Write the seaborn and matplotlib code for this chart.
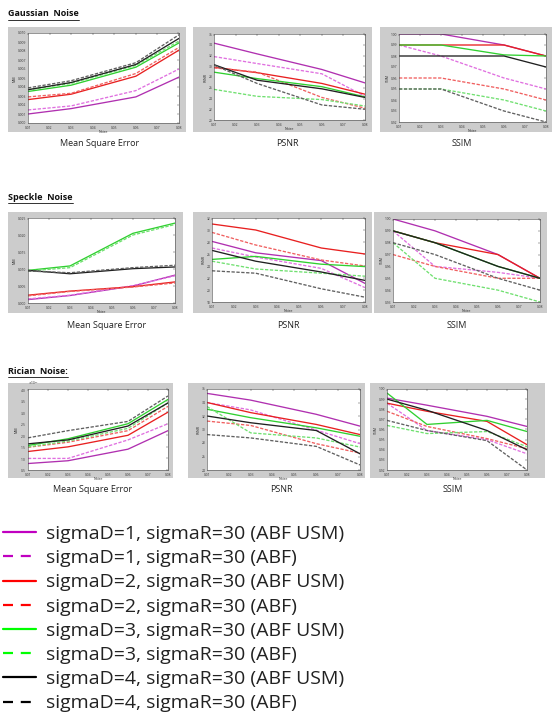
import numpy as np
import pandas as pd
import seaborn as sns
import matplotlib
matplotlib.use('Agg')
import matplotlib.pyplot as plt
from matplotlib.patches import Rectangle
from matplotlib.lines import Line2D
from matplotlib.ticker import ScalarFormatter

W, H = 554, 718

noise = [0.01, 0.03, 0.06, 0.08]
series = ['sigmaD=1, sigmaR=30 (ABF USM)', 'sigmaD=1, sigmaR=30 (ABF)',
          'sigmaD=2, sigmaR=30 (ABF USM)', 'sigmaD=2, sigmaR=30 (ABF)',
          'sigmaD=3, sigmaR=30 (ABF USM)', 'sigmaD=3, sigmaR=30 (ABF)',
          'sigmaD=4, sigmaR=30 (ABF USM)', 'sigmaD=4, sigmaR=30 (ABF)']
methods = ['ABF USM', 'ABF'] * 4

# values, one row per series (same order as above)
gauss_mse = [[0.0010, 0.0016, 0.0029, 0.0051],
             [0.00145, 0.0019, 0.0036, 0.0060],
             [0.0026, 0.0032, 0.0052, 0.0081],
             [0.0029, 0.0033, 0.0055, 0.0084],
             [0.0035, 0.0042, 0.0062, 0.0089],
             [0.0037, 0.0044, 0.0064, 0.0091],
             [0.0037, 0.0045, 0.0065, 0.0094],
             [0.0039, 0.0047, 0.0067, 0.0098]]
gauss_psnr = [[34.3, 32.3, 29.4, 26.9],
              [31.8, 30.5, 28.6, 24.4],
              [29.8, 28.8, 26.8, 24.8],
              [29.7, 28.9, 24.2, 22.2],
              [28.9, 27.7, 26.2, 24.3],
              [25.7, 24.4, 23.8, 22.6],
              [30.3, 27.4, 25.8, 24.2],
              [30.2, 26.8, 22.8, 22.0]]
gauss_ssim = [[1.0, 1.0, 0.99, 0.98],
              [0.99, 0.98, 0.96, 0.95],
              [0.99, 0.99, 0.99, 0.98],
              [0.96, 0.96, 0.95, 0.94],
              [0.99, 0.99, 0.981, 0.98],
              [0.95, 0.95, 0.94, 0.93],
              [0.98, 0.98, 0.98, 0.97],
              [0.95, 0.95, 0.93, 0.92]]

speckle_mse = [[0.0010, 0.0022, 0.0050, 0.0082],
               [0.0012, 0.0023, 0.0051, 0.0080],
               [0.0023, 0.0035, 0.0048, 0.0062],
               [0.0021, 0.0034, 0.0047, 0.0059],
               [0.0096, 0.0109, 0.0205, 0.0235],
               [0.0094, 0.0104, 0.0200, 0.0231],
               [0.0096, 0.0086, 0.0101, 0.0106],
               [0.0094, 0.0089, 0.0104, 0.0111]]
speckle_psnr = [[28.1, 26.2, 24.9, 21.1],
                [27.0, 25.5, 23.6, 20.4],
                [31.0, 30.0, 27.0, 26.0],
                [29.6, 27.5, 25.0, 24.0],
                [25.1, 25.6, 24.3, 23.9],
                [24.8, 23.5, 22.8, 22.3],
                [26.6, 24.8, 23.0, 21.6],
                [23.2, 22.8, 20.2, 18.8]]
speckle_ssim = [[1.0, 0.99, 0.97, 0.95],
                [0.99, 0.96, 0.955, 0.95],
                [0.99, 0.98, 0.97, 0.95],
                [0.97, 0.96, 0.95, 0.95],
                [0.99, 0.98, 0.96, 0.95],
                [0.98, 0.95, 0.94, 0.93],
                [0.99, 0.98, 0.96, 0.95],
                [0.98, 0.97, 0.95, 0.94]]

rician_mse = [[0.00078, 0.0009, 0.0014, 0.0022],
              [0.0010, 0.0010, 0.0018, 0.0025],
              [0.0013, 0.0015, 0.0020, 0.0030],
              [0.00148, 0.0017, 0.0022, 0.00325],
              [0.00156, 0.00185, 0.0025, 0.00355],
              [0.0015, 0.00175, 0.0023, 0.0034],
              [0.00163, 0.0018, 0.0024, 0.0034],
              [0.00189, 0.0022, 0.0026, 0.0037]]
rician_psnr = [[35.35, 34.35, 32.25, 30.5],
               [34.0, 32.9, 29.9, 27.9],
               [34.0, 32.5, 30.75, 29.25],
               [31.25, 30.6, 27.9, 26.5],
               [33.0, 31.75, 30.25, 29.0],
               [33.4, 29.5, 28.75, 27.4],
               [32.0, 31.0, 29.85, 26.4],
               [29.25, 28.75, 27.5, 24.75]]
rician_ssim = [[0.991, 0.984, 0.973, 0.963],
               [0.986, 0.959, 0.950, 0.936],
               [0.986, 0.978, 0.968, 0.945],
               [0.978, 0.963, 0.951, 0.941],
               [0.996, 0.965, 0.969, 0.958],
               [0.964, 0.956, 0.958, 0.943],
               [0.990, 0.979, 0.959, 0.940],
               [0.969, 0.959, 0.949, 0.920]]

plot_colors = ['#b030b0', '#e070e0', '#e82020', '#f06060',
               '#30d030', '#70e070', '#202020', '#606060']
legend_colors = ['#c000c0', '#c000c0', '#ff0000', '#ff0000',
                 '#00ff00', '#00ff00', '#000000', '#000000']


def to_long(values):
    rows = []
    for lab, m, ys in zip(series, methods, values):
        for x, y in zip(noise, ys):
            rows.append({'noise': x, 'value': y, 'series': lab, 'method': m})
    return pd.DataFrame(rows)


sns.set_theme(style='white')
plt.rcParams['font.family'] = ['Open Sans', 'DejaVu Sans']

fig = plt.figure(figsize=(W / 100, H / 100), dpi=100)


def rect(x0, y0, x1, y1):
    return [x0 / W, 1 - y1 / H, (x1 - x0) / W, (y1 - y0) / H]


rows = [
    ('Gaussian  Noise', 14,
     [(gauss_mse, 'MSE', (0, 0.01), 0.001, (8, 27, 186, 132), (28, 33, 179, 123), 'Mean Square Error', 100),
      (gauss_psnr, 'PSNR', (20, 36), 2, (193, 27, 372, 132), (214, 34, 365, 120), 'PSNR', 287),
      (gauss_ssim, 'SSIM', (0.92, 1.0), 0.01, (380, 27, 552, 132), (399, 34, 546, 122), 'SSIM', 462)], 143),
    ('Speckle  Noise', 197,
     [(speckle_mse, 'MSE', (0, 0.025), 0.005, (8, 212, 183, 313), (28, 218, 175, 303), 'Mean Square Error', 107),
      (speckle_psnr, 'PSNR', (18, 32), 2, (193, 212, 372, 313), (212, 218, 365, 302), 'PSNR', 288),
      (speckle_ssim, 'SSIM', (0.93, 1.0), 0.01, (374, 212, 547, 313), (393, 219, 540, 302), 'SSIM', 457)], 325),
    ('Rician  Noise:', 371,
     [(rician_mse, 'MSE', (0.0005, 0.004), 0.0005, (8, 383, 173, 478), (28, 389, 168, 470), 'Mean Square Error', 93),
      (rician_psnr, 'PSNR', (24, 36), 2, (188, 383, 365, 478), (207, 389, 360, 470), 'PSNR', 281),
      (rician_ssim, 'SSIM', (0.92, 1.0), 0.01, (370, 383, 545, 478), (387, 389, 527, 470), 'SSIM', 453)], 490),
]

palette = dict(zip(series, plot_colors))
dashes = {'ABF USM': '', 'ABF': (2.5, 1.2)}

for title, ty, panels, cy in rows:
    t = fig.text(8 / W, 1 - ty / H, title, fontsize=6.5, fontweight='bold',
                 va='center', ha='left', color='#111111')
    fig.canvas.draw()
    bb = t.get_window_extent().transformed(fig.transFigure.inverted())
    fig.add_artist(Line2D([bb.x0, bb.x1], [bb.y0 - 1 / H, bb.y0 - 1 / H],
                          color='#111111', lw=0.6, transform=fig.transFigure))
    for values, ylab, ylim, ystep, grey, inner, caption, cx in panels:
        gx0, gy0, gx1, gy1 = grey
        fig.patches.append(Rectangle((gx0 / W, 1 - gy1 / H), (gx1 - gx0) / W, (gy1 - gy0) / H,
                                     transform=fig.transFigure, facecolor='#cccccc',
                                     edgecolor='none', zorder=-5))
        ax = fig.add_axes(rect(*inner))
        ax.set_zorder(2)
        ax.set_facecolor('white')
        df = to_long(values)
        sns.lineplot(data=df, x='noise', y='value', hue='series', style='method',
                     palette=palette, dashes=dashes, hue_order=series,
                     style_order=['ABF USM', 'ABF'], linewidth=0.95,
                     legend=False, ax=ax)
        ax.set_xlim(0.01, 0.08)
        ax.set_ylim(*ylim)
        ax.set_xticks(np.arange(0.01, 0.0801, 0.01))
        ax.set_yticks(np.arange(ylim[0], ylim[1] + ystep / 2, ystep))
        ax.set_xlabel('Noise', fontsize=2.5, labelpad=0.3)
        ax.set_ylabel(ylab, fontsize=2.5, labelpad=1)
        ax.tick_params(direction='in', length=1.5, width=0.3, labelsize=2.3,
                       pad=1, top=True, right=True, colors='#333333')
        ax.tick_params(axis='x', pad=2.2)
        for s in ax.spines.values():
            s.set_visible(True)
            s.set_linewidth(0.4)
            s.set_color('#444444')
        if ylab == 'MSE' and ylim[1] < 0.005:
            fmt = ScalarFormatter(useMathText=True)
            fmt.set_powerlimits((-2, 2))
            ax.yaxis.set_major_formatter(fmt)
            ax.yaxis.get_offset_text().set_fontsize(2.3)
        fig.text(cx / W, 1 - cy / H, caption, fontsize=6.5, ha='center',
                 va='center', color='#222222')

handles = []
for col, m in zip(legend_colors, methods):
    if m == 'ABF':
        handles.append(Line2D([], [], color=col, lw=1.6, linestyle=(0, (4.5, 3.5))))
    else:
        handles.append(Line2D([], [], color=col, lw=1.6))
fig.legend(handles, series, loc='upper left', bbox_to_anchor=(0.0, 1 - 522 / H),
           frameon=False, fontsize=14, handlelength=1.7, handletextpad=0.5,
           labelspacing=0.32, borderaxespad=0, borderpad=0.15,
           labelcolor='#222222')

fig.savefig('out.png', dpi=100, facecolor='white')
